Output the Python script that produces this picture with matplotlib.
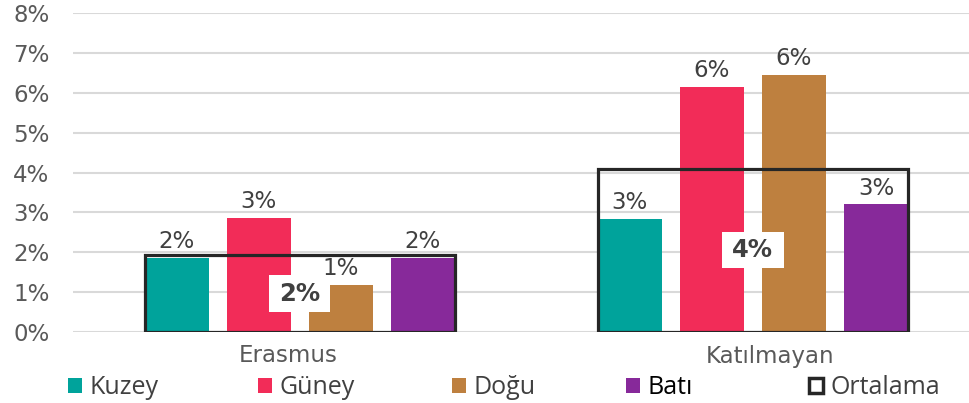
import matplotlib
matplotlib.use('Agg')
import matplotlib.pyplot as plt
from matplotlib.patches import Patch
import numpy as np

plt.rcParams['font.family'] = ['DejaVu Sans']

# data (percent)
groups = ['Erasmus', 'Katılmayan']
regions = ['Kuzey', 'Güney', 'Doğu', 'Batı']
kuzey = [1.85, 2.83]
guney = [2.86, 6.14]
dogu = [1.18, 6.44]
bati = [1.85, 3.2]
ortalama = [1.93, 4.1]
shown = [['2%', '3%', '1%', '2%'], ['3%', '6%', '6%', '3%']]
avg_shown = ['2%', '4%']
y_ticks = [0, 1, 2, 3, 4, 5, 6, 7, 8]

colors = ['#00A39B', '#F22C58', '#BE803F', '#87299A']
text_grey = '#404040'

fig = plt.figure(figsize=(9.7, 4.03), dpi=100)
ax = fig.add_axes([73 / 970, 71 / 403, 897 / 970, 319 / 403])

x = np.arange(len(groups))
pitch = 0.181
width = 0.1413
series = [kuzey, guney, dogu, bati]
for i, vals in enumerate(series):
    pos = x + (i - 1.5) * pitch
    ax.bar(pos, vals, width=width, color=colors[i], zorder=2)
    for j in range(len(groups)):
        ax.annotate(shown[j][i], (pos[j], vals[j]), xytext=(0, 3.5),
                    textcoords='offset points', ha='center', va='bottom',
                    fontsize=16.5, color=text_grey, zorder=5)

# average box
box_w = 3 * pitch + width
ax.bar(x, ortalama, width=box_w, fill=False, edgecolor='#262626',
       linewidth=2.3, zorder=3, joinstyle='miter')
for j in range(len(groups)):
    ax.text(x[j], ortalama[j] / 2, avg_shown[j], ha='center', va='center',
            fontsize=17.5, fontweight='bold', color=text_grey, zorder=6,
            bbox=dict(boxstyle='square,pad=0.42', fc='white', ec='none',
                      mutation_aspect=0.6))

ax.set_ylim(0, 8)
ax.set_xlim(-0.5, 1.479)
ax.set_yticks(y_ticks)
ax.set_yticklabels([f'{t}%' for t in y_ticks])
# category labels sit a little off the group centres in the original
ax.set_xticks(x + np.array([-0.026, 0.037]))
ax.set_xticklabels(groups)
ax.tick_params(axis='y', length=0, pad=17, labelsize=16.5, labelcolor='#595959')
ax.tick_params(axis='x', length=0, pad=9, labelsize=16.5, labelcolor='#595959')
ax.grid(axis='y', color='#d9d9d9', linewidth=1.5, zorder=0)
ax.set_axisbelow(True)
for s in ax.spines.values():
    s.set_visible(False)

# legend: one entry per slot so the spacing follows the original
handles = [Patch(facecolor=c, edgecolor='none') for c in colors]
handles.append(Patch(facecolor='white', edgecolor='#262626', linewidth=2.5))
labels = regions + ['Ortalama']
slot_x = [68, 258, 452, 626, 809]
for h, lab, sx in zip(handles, labels, slot_x):
    leg = fig.legend([h], [lab], loc='center left',
                     bbox_to_anchor=(sx / 970, 15 / 403), frameon=False,
                     prop={'family': 'Open Sans', 'size': 18},
                     handlelength=0.56, handleheight=0.56, handletextpad=0.3,
                     borderpad=0, borderaxespad=0)
    leg.get_texts()[0].set_color('black' if lab == 'Batı' else '#404040')

plt.savefig('out.png')
